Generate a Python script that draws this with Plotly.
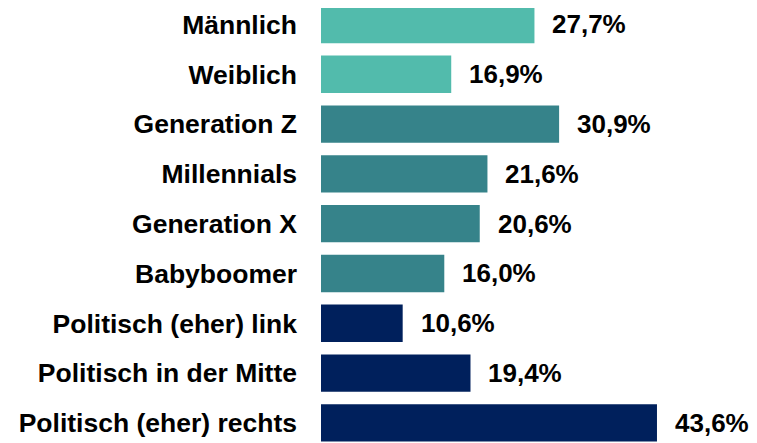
import plotly.graph_objects as go

categories = ["Männlich", "Weiblich", "Generation Z", "Millennials", "Generation X",
              "Babyboomer", "Politisch (eher) link", "Politisch in der Mitte",
              "Politisch (eher) rechts"]
values = [27.7, 16.9, 30.9, 21.6, 20.6, 16.0, 10.6, 19.4, 43.6]
labels = ["27,7%", "16,9%", "30,9%", "21,6%", "20,6%", "16,0%", "10,6%", "19,4%", "43,6%"]
groups = ["g", "g", "a", "a", "a", "a", "p", "p", "p"]
group_colors = {"g": "#52BBAC", "a": "#36838A", "p": "#00205C"}

FONT = "Liberation Sans, Arial, sans-serif"

fig = go.Figure()
fig.add_trace(go.Bar(
    y=categories, x=values, orientation="h",
    marker=dict(color=[group_colors[g] for g in groups], line=dict(width=0)),
    width=0.75, hoverinfo="skip",
))

for c, v, t in zip(categories, values, labels):
    fig.add_annotation(x=v, y=c, text=t, showarrow=False, xanchor="left",
                       yanchor="middle", xshift=16,
                       font=dict(family=FONT, size=26, color="#000000", weight="bold"))

fig.update_layout(
    width=749, height=435,
    margin=dict(l=313, r=0, t=0, b=0, autoexpand=False),
    plot_bgcolor="white", paper_bgcolor="white",
    showlegend=False,
    font=dict(family=FONT, size=26, color="#000000"),
)
fig.update_xaxes(range=[0, 56.58], visible=False, showgrid=False, zeroline=False,
                 automargin=False)
fig.update_yaxes(type="category", range=[8.404, -0.331], showgrid=False, zeroline=False,
                 showline=False, ticks="", ticklabelstandoff=23, automargin=False,
                 tickfont=dict(family=FONT, size=26.5, color="#000000", weight="bold"))

fig.write_html("out.html")
